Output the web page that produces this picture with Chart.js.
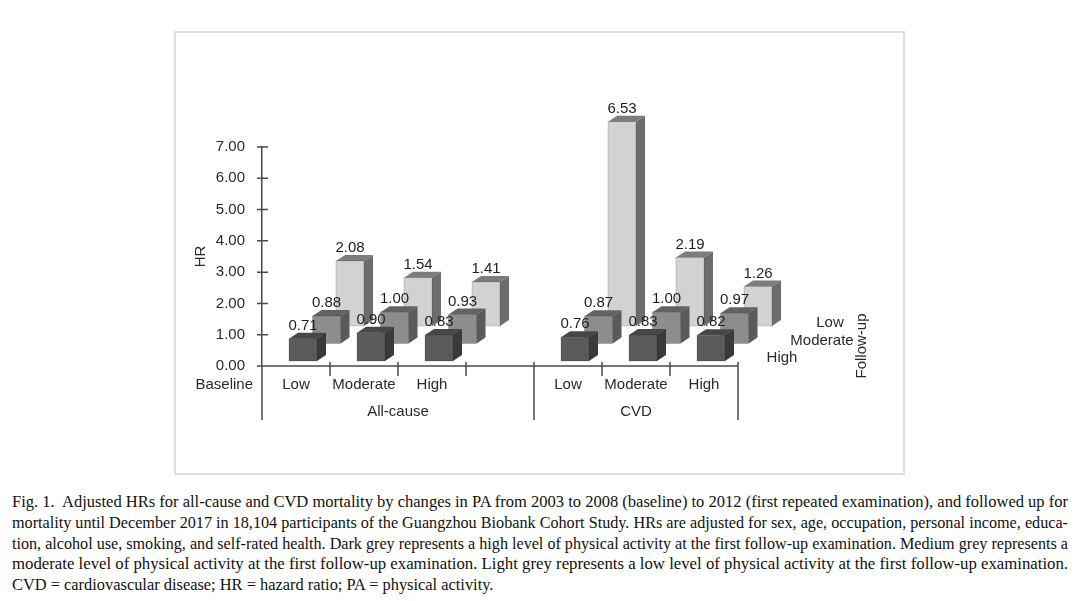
<!DOCTYPE html>
<html>
<head>
<meta charset="utf-8">
<script src="https://cdn.jsdelivr.net/npm/chart.js@4.4.1/dist/chart.umd.min.js"></script>
<style>
  html, body { margin: 0; padding: 0; background: #fff; }
  body { width: 1080px; height: 601px; position: relative; overflow: hidden; }
  #frame { position: absolute; left: 174px; top: 31px; width: 727px; height: 440px; border: 2px solid #dedede; }
  #wrap { position: absolute; left: 0; top: 0; width: 1080px; height: 480px; }
  #caption { position: absolute; left: 12px; top: 492px; width: 1056px;
    font-family: "Liberation Serif", "Times New Roman", serif; font-size: 16px; color: #111; }
  #caption div { white-space: nowrap; line-height: 20.8px; width: max-content; transform-origin: left center; }
</style>
</head>
<body>
<div id="frame"></div>
<div id="wrap"><canvas id="chart"></canvas></div>
<div id="caption">
  <div>Fig. 1.&nbsp; Adjusted HRs for all-cause and CVD mortality by changes in PA from 2003 to 2008 (baseline) to 2012 (first repeated examination), and followed up for</div>
  <div>mortality until December 2017 in 18,104 participants of the Guangzhou Biobank Cohort Study. HRs are adjusted for sex, age, occupation, personal income, educa-</div>
  <div>tion, alcohol use, smoking, and self-rated health. Dark grey represents a high level of physical activity at the first follow-up examination. Medium grey represents a</div>
  <div>moderate level of physical activity at the first follow-up examination. Light grey represents a low level of physical activity at the first follow-up examination.</div>
  <div class="last">CVD = cardiovascular disease; HR = hazard ratio; PA = physical activity.</div>
</div>
<script>
// categories (blank slot separates the two outcomes)
const categories = ["Low", "Moderate", "High", "", "Low", "Moderate", "High"];
const groups = [
  { label: "All-cause", from: 0, to: 3 },
  { label: "CVD", from: 4, to: 6 }
];
const followUpLevels = ["High", "Moderate", "Low"];

// HR values by follow-up PA level
const highFollowUp = [0.71, 0.90, 0.83, null, 0.76, 0.83, 0.82];
const moderateFollowUp = [0.88, 1.00, 0.93, null, 0.87, 1.00, 0.97];
const lowFollowUp = [2.08, 1.54, 1.41, null, 6.53, 2.19, 1.26];

const yTicks = [0, 1, 2, 3, 4, 5, 6, 7];

const FONT = "15px 'Liberation Sans', Arial, sans-serif";
const shades = [
  { front: "#5b5b5b", top: "#474747", side: "#3a3a3a" },
  { front: "#8d8d8d", top: "#626262", side: "#5a5a5a" },
  { front: "#d2d2d2", top: "#7c7c7c", side: "#6c6c6c" }
];
// perspective shift of each row and depth of each box
const rowShift = [{ dx: 7, dy: -5 }, { dx: 30.5, dy: -22.5 }, { dx: 54, dy: -40 }];
const depth = { dx: 9, dy: -6 };
const rowLabelPos = [{ x: 782, y: 358 }, { x: 822, y: 341 }, { x: 830, y: 323 }];

const bars3d = {
  id: "bars3d",
  afterDatasetsDraw(chart) {
    const ctx = chart.ctx;
    const area = chart.chartArea;
    const xs = chart.scales.x, ys = chart.scales.y;
    const slot = (area.right - area.left) / categories.length;
    const axisColor = "#4a4a4a";

    ctx.save();
    // x axis and separators
    ctx.strokeStyle = axisColor;
    ctx.lineWidth = 1.5;
    ctx.beginPath();
    ctx.moveTo(area.left, area.bottom);
    ctx.lineTo(area.right, area.bottom);
    for (let i = 1; i < categories.length; i++) {
      const x = area.left + slot * i;
      ctx.moveTo(x, area.bottom - 4);
      ctx.lineTo(x, i === 4 ? area.bottom + 54 : area.bottom + 10);
    }
    ctx.moveTo(area.left, area.bottom);
    ctx.lineTo(area.left, area.bottom + 54);
    ctx.moveTo(area.right, area.bottom - 4);
    ctx.lineTo(area.right, area.bottom + 54);
    yTicks.forEach(v => {
      const y = ys.getPixelForValue(v);
      ctx.moveTo(area.left - 5, y);
      ctx.lineTo(area.left + 6, y);
    });
    ctx.stroke();

    ctx.font = FONT;
    ctx.fillStyle = "#2a2a2a";
    ctx.textBaseline = "middle";
    ctx.textAlign = "center";
    categories.forEach((c, i) => ctx.fillText(c, xs.getPixelForValue(i), area.bottom + 19));
    groups.forEach(g => {
      const x0 = area.left + slot * g.from;
      const x1 = area.left + slot * (g.to + 1);
      ctx.fillText(g.label, (x0 + x1) / 2, area.bottom + 46);
    });
    ctx.textAlign = "right";
    ctx.fillText("Baseline", area.left - 9, area.bottom + 19);

    // boxes, back row first
    const labels = [];
    for (let d = chart.data.datasets.length - 1; d >= 0; d--) {
      const meta = chart.getDatasetMeta(d);
      const sh = rowShift[d], col = shades[d];
      meta.data.forEach((bar, i) => {
        const v = chart.data.datasets[d].data[i];
        if (v === null) return;
        const p = bar.getProps(["x", "y", "base", "width"], true);
        const x0 = p.x - p.width / 2 + sh.dx, x1 = p.x + p.width / 2 + sh.dx;
        const yt = p.y + sh.dy, yb = p.base + sh.dy;
        ctx.fillStyle = col.front;
        ctx.fillRect(x0, yt, x1 - x0, yb - yt);
        ctx.fillStyle = col.top;
        ctx.beginPath();
        ctx.moveTo(x0, yt); ctx.lineTo(x0 + depth.dx, yt + depth.dy);
        ctx.lineTo(x1 + depth.dx, yt + depth.dy); ctx.lineTo(x1, yt);
        ctx.closePath(); ctx.fill();
        ctx.fillStyle = col.side;
        ctx.beginPath();
        ctx.moveTo(x1, yt); ctx.lineTo(x1 + depth.dx, yt + depth.dy);
        ctx.lineTo(x1 + depth.dx, yb + depth.dy); ctx.lineTo(x1, yb);
        ctx.closePath(); ctx.fill();
        ctx.strokeStyle = "rgba(0,0,0,0.25)";
        ctx.lineWidth = 0.6;
        ctx.strokeRect(x0, yt, x1 - x0, yb - yt);
        labels.push({ text: v.toFixed(2), x: (x0 + x1) / 2, y: yt - 13 });
      });
    }

    ctx.fillStyle = "#1e1e1e";
    ctx.textAlign = "center";
    labels.forEach(l => ctx.fillText(l.text, l.x, l.y));

    ctx.fillStyle = "#2a2a2a";
    followUpLevels.forEach((lv, r) => ctx.fillText(lv, rowLabelPos[r].x, rowLabelPos[r].y));
    ctx.translate(862, 346);
    ctx.rotate(-Math.PI / 2);
    ctx.fillText("Follow-up", 0, 0);
    ctx.restore();
  }
};

new Chart(document.getElementById("chart"), {
  type: "bar",
  data: {
    labels: categories,
    datasets: [
      { label: "High", data: highFollowUp },
      { label: "Moderate", data: moderateFollowUp },
      { label: "Low", data: lowFollowUp }
    ].map(ds => Object.assign(ds, {
      backgroundColor: "rgba(0,0,0,0)",
      borderWidth: 0,
      barThickness: 28,
      grouped: false
    }))
  },
  options: {
    responsive: true,
    maintainAspectRatio: false,
    animation: false,
    layout: { padding: { left: 192, right: 342, top: 147, bottom: 114 } },
    plugins: { legend: { display: false }, tooltip: { enabled: false } },
    scales: {
      x: { display: false },
      y: {
        min: 0,
        max: 7,
        afterFit(scale) { scale.width = 70; },
        afterBuildTicks(scale) { scale.ticks = yTicks.map(v => ({ value: v })); },
        grid: { display: false, drawTicks: false },
        border: { display: true, color: "#4a4a4a", width: 1.5 },
        ticks: {
          padding: 17,
          color: "#2a2a2a",
          font: { family: "'Liberation Sans', Arial, sans-serif", size: 15 },
          callback: v => v.toFixed(2)
        },
        title: {
          display: true,
          text: "HR",
          color: "#2a2a2a",
          padding: 0,
          font: { family: "'Liberation Sans', Arial, sans-serif", size: 15 }
        }
      }
    }
  },
  plugins: [bars3d]
});

// squeeze each caption line to the column width, like the justified original
const lines = document.querySelectorAll("#caption div");
let scaleSum = 0, n = 0;
lines.forEach(el => {
  if (el.classList.contains("last")) return;
  const s = 1056 / el.getBoundingClientRect().width;
  el.style.transform = "scaleX(" + s + ")";
  scaleSum += s; n++;
});
document.querySelector("#caption .last").style.transform = "scaleX(" + (scaleSum / n) + ")";
</script>
</body>
</html>
